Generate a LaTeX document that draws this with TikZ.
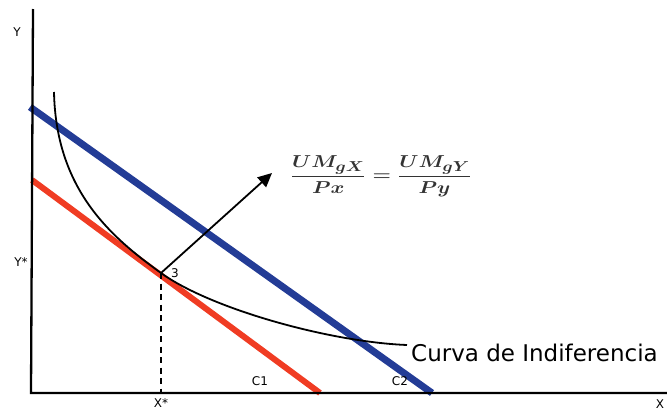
\documentclass[tikz,border=0pt]{standalone}
\usepackage{fontspec}
\setmainfont{DejaVu Sans}
\usetikzlibrary{arrows.meta}
\definecolor{budgetblue}{RGB}{35,60,150}
\definecolor{budgetred}{RGB}{240,60,35}
\begin{document}
\begin{tikzpicture}[x=1pt,y=-1pt,
  axisline/.style={line width=2.3pt,black},
  blueline/.style={line width=7pt,budgetblue},
  redline/.style={line width=6pt,budgetred},
  curveline/.style={line width=1.8pt,black},
  lbl/.style={inner sep=0pt,font=\fontsize{12}{14}\selectfont},
  biglbl/.style={inner sep=0pt,anchor=base west,font=\fontsize{23}{27}\selectfont},
  arrowline/.style={line width=1.8pt,-{Triangle[length=14pt,width=13pt]}},
  dashline/.style={line width=1.8pt,dash pattern=on 6pt off 4.5pt}]
\useasboundingbox (0,0) rectangle (667,410);
% coordinates
\coordinate (ytop) at (33,9);
\coordinate (origin) at (31,393);
\coordinate (xend) at (667,393);
\coordinate (b1) at (30,107);
\coordinate (b2) at (432,393);
\coordinate (r1) at (32,180);
\coordinate (r2) at (320,393);
\coordinate (cstart) at (54,92);
\coordinate (tp) at (161,273);
\coordinate (cend) at (407,345);
\coordinate (xstar) at (161,393);
\coordinate (tip) at (272,173);
% budget lines
\draw[redline] (r1) -- (r2);
\draw[blueline] (b1) -- (b2);
% axes
\draw[axisline] (ytop) -- (origin) -- (xend);
% indifference curve
\draw[curveline] (cstart) .. controls (56,190) and (111,237) .. (tp)
  .. controls (211,309) and (330,342) .. (cend);
% dashed
\draw[dashline] (tp) -- (xstar);
% arrow
\draw[arrowline] (tp) -- (tip);
% labels
\node[lbl] (ylab) at (17,32) {Y};
\node[lbl] (ystar) at (21,262) {Y*};
\node[lbl] (xstarlab) at (161,403) {X*};
\node[lbl] (xlab) at (660,404) {X};
\node[lbl] (c1) at (260,381) {C1};
\node[lbl] (c2) at (400,381) {C2};
\node[lbl] (three) at (175,273) {3};
\node[biglbl] (curva) at (411,361) {Curva de Indiferencia};
\node[inner sep=0pt,text=black!80] (formula) at (381,176) {\scalebox{1.22}[1]{\fontsize{19}{23}\selectfont\boldmath$\displaystyle\frac{UM_{gX}}{Px}=\frac{UM_{gY}}{Py}$}};
\end{tikzpicture}
\end{document}
